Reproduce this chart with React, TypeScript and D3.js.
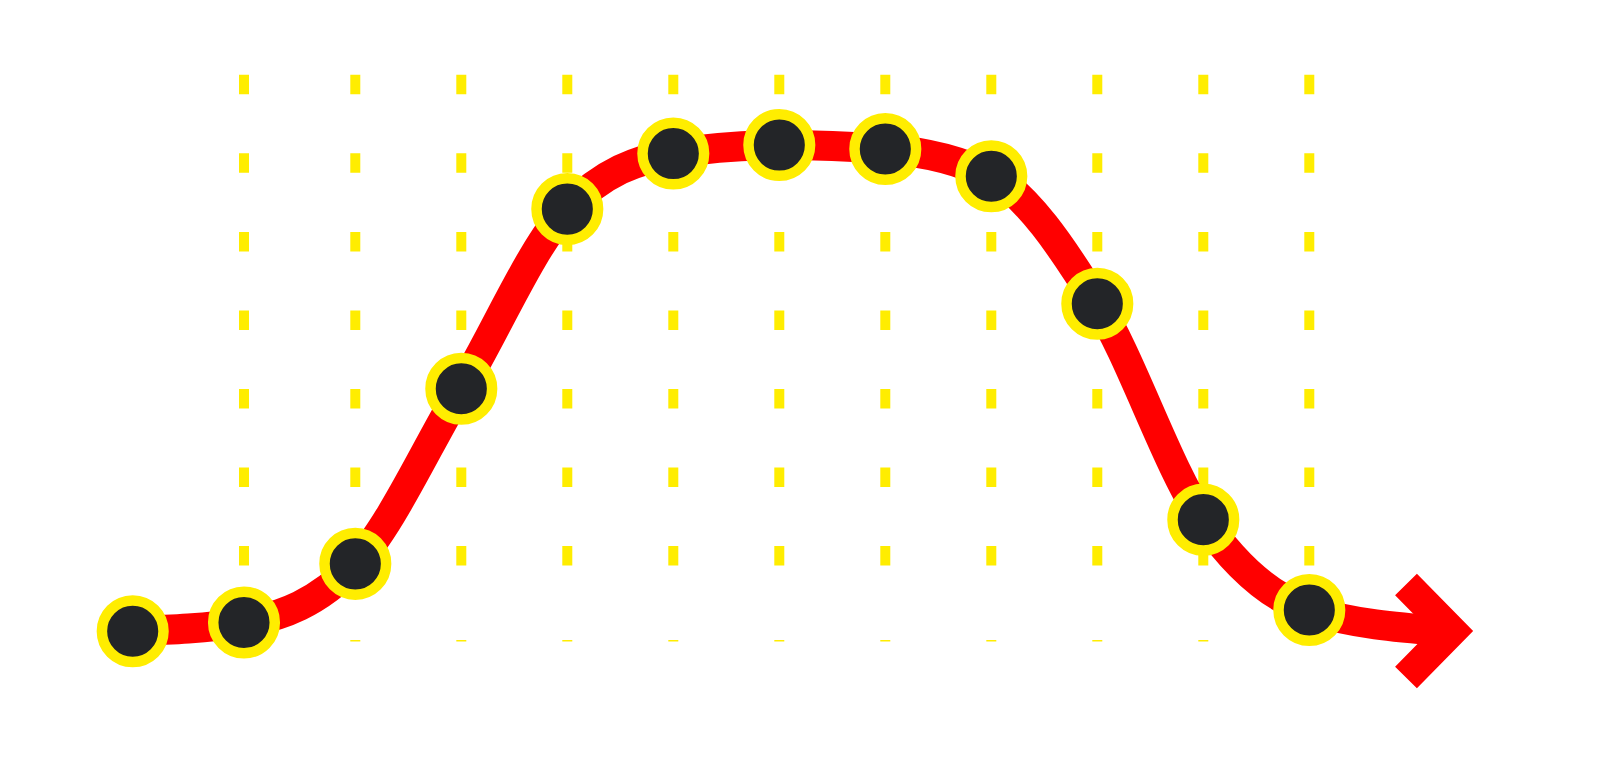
import React from "react";
import * as d3 from "d3";

const xValues = [0, 1.05, 2.1, 3.1, 4.1, 5.1, 6.1, 7.1, 8.1, 9.1, 10.1, 11.1, 12.35];
const yValues = [0.18, 0.335, 1.37, 4.46, 7.63, 8.61, 8.76, 8.69, 8.21, 5.96, 2.15, 0.556, 0.185];
const markerCount = 12;
const gridIndices = [1, 2, 3, 4, 5, 6, 7, 8, 9, 10, 11];

const W = 1619;
const H = 777;
const RED = "#ff0000";
const YELLOW = "#ffed00";
const DARK = "#232528";

export default function App() {
  const x = d3.scaleLinear().domain([0, 12.1]).range([132.7, 1415.3]);
  const y = d3.scaleLinear().domain([0, 10]).range([641.5, 74.8]);
  const pts: [number, number][] = xValues.map((v, i) => [x(v), y(yValues[i])]);
  const line = d3.line<[number, number]>().curve(d3.curveMonotoneX)(pts) || "";
  const last = pts[pts.length - 1];

  return (
    <svg
      width={W}
      height={H}
      style={{ position: "absolute", left: 0, top: 0, display: "block", background: "#fff" }}
    >
      <g>
        {gridIndices.map((i) => (
          <g key={i}>
            <line
              x1={x(xValues[i])}
              x2={x(xValues[i])}
              y1={y(10)}
              y2={y(0.7)}
              stroke={YELLOW}
              strokeWidth={10}
              strokeDasharray="19.5 59.05"
            />
            <line
              x1={x(xValues[i])}
              x2={x(xValues[i])}
              y1={y(0)}
              y2={y(0) - 1.5}
              stroke={YELLOW}
              strokeWidth={10}
            />
          </g>
        ))}
      </g>
      <path d={line} fill="none" stroke={RED} strokeWidth={30} />
      <path
        transform={`translate(${last[0]},${last[1]})`}
        d="M-35.8,-46.5 L9.9,0 L-35.8,46.5"
        fill="none"
        stroke={RED}
        strokeWidth={30.6}
        strokeLinejoin="miter"
        strokeMiterlimit={10}
      />
      {pts.slice(0, markerCount).map((p, i) => (
        <circle key={i} cx={p[0]} cy={p[1]} r={30.8} fill={DARK} stroke={YELLOW} strokeWidth={10.5} />
      ))}
    </svg>
  );
}
